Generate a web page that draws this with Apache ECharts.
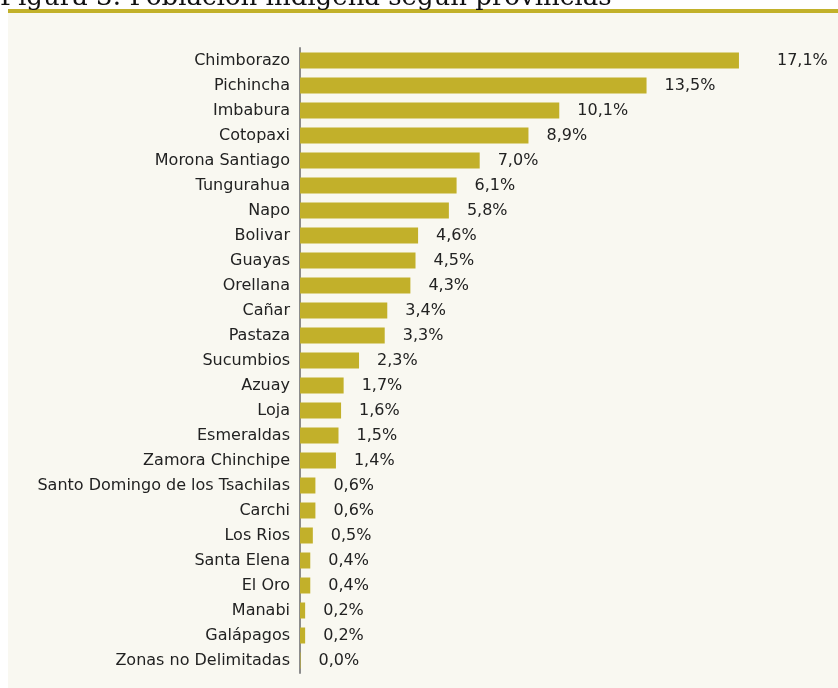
<!DOCTYPE html>
<html>
<head>
<meta charset="utf-8">
<script src="https://cdn.jsdelivr.net/npm/echarts@6/dist/echarts.min.js"></script>
<style>
html, body { margin: 0; padding: 0; background: #fff; }
#chart { width: 838px; height: 688px; }
</style>
</head>
<body>
<div id="chart"></div>
<script>
// provincias, de mayor a menor
var provincias = ['Chimborazo', 'Pichincha', 'Imbabura', 'Cotopaxi', 'Morona Santiago', 'Tungurahua', 'Napo',
  'Bolivar', 'Guayas', 'Orellana', 'Cañar', 'Pastaza', 'Sucumbios', 'Azuay', 'Loja', 'Esmeraldas',
  'Zamora Chinchipe', 'Santo Domingo de los Tsachilas', 'Carchi', 'Los Rios', 'Santa Elena', 'El Oro',
  'Manabi', 'Galápagos', 'Zonas no Delimitadas'];
var porcentaje = [17.1, 13.5, 10.1, 8.9, 7.0, 6.1, 5.8, 4.6, 4.5, 4.3, 3.4, 3.3, 2.3, 1.7, 1.6, 1.5,
  1.4, 0.6, 0.6, 0.5, 0.4, 0.4, 0.2, 0.2, 0.02];
var etiquetas = ['17,1%', '13,5%', '10,1%', '8,9%', '7,0%', '6,1%', '5,8%', '4,6%', '4,5%', '4,3%', '3,4%',
  '3,3%', '2,3%', '1,7%', '1,6%', '1,5%', '1,4%', '0,6%', '0,6%', '0,5%', '0,4%', '0,4%', '0,2%', '0,2%', '0,0%'];

var chart = echarts.init(document.getElementById('chart'));

var datos = porcentaje.map(function (v, i) {
  var d = { value: v };
  if (i == 0) d.label = { distance: 38 };
  return d;
});

var option = {
  backgroundColor: '#ffffff',
  animation: false,
  graphic: [
    { type: 'rect', shape: { x: 8, y: 13, width: 830, height: 675 }, style: { fill: '#f9f8f1' }, z: -10 },
    { type: 'rect', shape: { x: 8, y: 9, width: 830, height: 4 }, style: { fill: '#c2b12a' } },
    { type: 'text', left: 0, top: -15,
      style: { text: 'Figura 3: Población indígena según provincias', font: '26px "DejaVu Serif"', fill: '#111' } }
  ],
  grid: { left: 300, top: 48, width: 520, height: 625, containLabel: false },
  xAxis: {
    type: 'value', min: 0, max: 520 / 25.67,
    show: false
  },
  yAxis: {
    type: 'category',
    data: provincias,
    inverse: true,
    axisLine: { lineStyle: { color: '#8c8c8c', width: 2 } },
    axisTick: { show: false },
    axisLabel: { color: '#222', fontSize: 16, fontFamily: 'DejaVu Sans', margin: 10 }
  },
  series: [{
    type: 'bar',
    data: datos,
    barWidth: 16,
    itemStyle: { color: '#c2b02a' },
    label: {
      show: true,
      position: 'right',
      distance: 18,
      color: '#222',
      fontSize: 16,
      fontFamily: 'DejaVu Sans',
      formatter: function (p) { return etiquetas[p.dataIndex]; }
    }
  }]
};
chart.setOption(option);
</script>
</body>
</html>
